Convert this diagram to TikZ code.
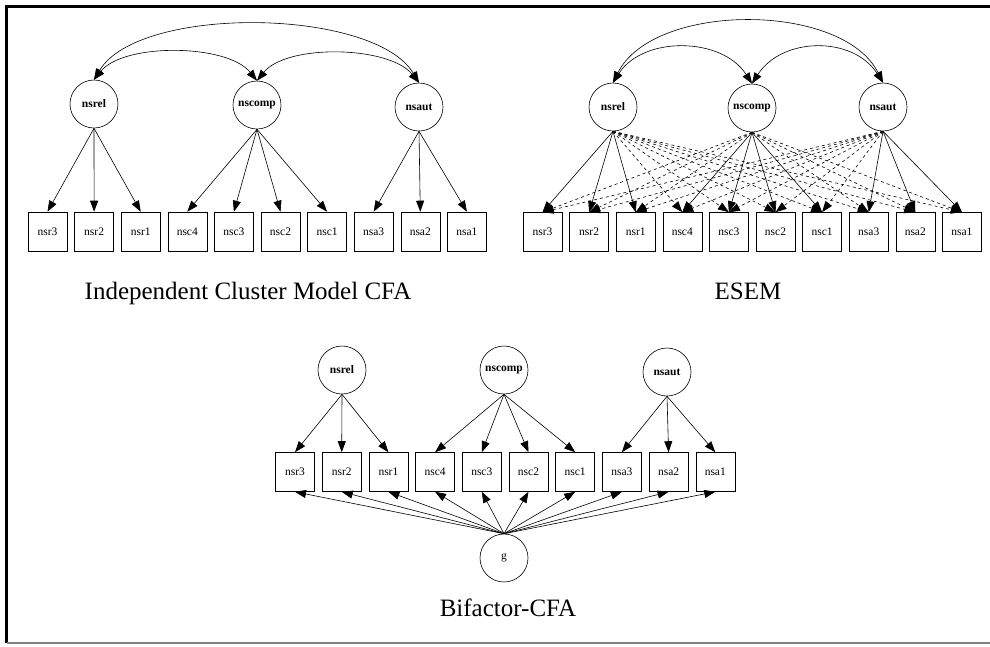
\documentclass[tikz,border=0pt]{standalone}
\usepackage{fontspec}
\setmainfont{Liberation Serif}
\usetikzlibrary{arrows.meta}

\tikzset{
  latent/.style={draw, circle, minimum size=48pt, inner sep=0pt, font=\fontsize{11.5}{13}\selectfont\bfseries},
  item/.style={draw, rectangle, minimum size=39pt, inner sep=0pt, font=\fontsize{11.5}{13}\selectfont},
  load/.style={-{Triangle[length=11pt,width=8pt]}},
  corr/.style={{Triangle[length=11pt,width=8pt]}-{Triangle[length=11pt,width=8pt]}},
  heading/.style={font=\fontsize{25}{30}\selectfont, anchor=base},
}

\begin{document}
\begin{tikzpicture}[x=1pt, y=-1pt, line width=0.6pt]
  \useasboundingbox (0,0) rectangle (990,646);
  % frame
  \draw[line width=3pt] (990,6.5) -- (6.5,6.5) -- (6.5,643);
  \draw[gray, line width=1.2pt] (6.5,643) -- (990,643);

  % Independent cluster model
  \node[latent] (icm-nsrel) at (94,104) {nsrel};
  \node[latent] (icm-nscomp) at (257,105) {nscomp};
  \node[latent] (icm-nsaut) at (419,107) {nsaut};
  \foreach \v [count=\i from 0] in {nsr3,nsr2,nsr1,nsc4,nsc3,nsc2,nsc1,nsa3,nsa2,nsa1}
    \node[item] (icm-\v) at ({47.5+46.6*\i},231.5) {\v};
  \foreach \v in {nsr3,nsr2,nsr1}
    \draw[load] (icm-nsrel.south) -- (icm-\v.north);
  \foreach \v in {nsc4,nsc3,nsc2,nsc1}
    \draw[load] (icm-nscomp.south) -- (icm-\v.north);
  \foreach \v in {nsa3,nsa2,nsa1}
    \draw[load] (icm-nsaut.south) -- (icm-\v.north);
  \draw[corr] (icm-nsrel.north) .. controls +(30,-37) and +(-30,-37) .. (icm-nscomp.north);
  \draw[corr] (icm-nscomp.north) .. controls +(30,-37) and +(-30,-37) .. (icm-nsaut.north);
  \draw[corr] (icm-nsrel.north) .. controls +(45,-75) and +(-45,-75) .. (icm-nsaut.north);
  \node[heading] (icm-title) at (248,299) {Independent Cluster Model CFA};

  % ESEM
  \node[latent] (esem-nsrel) at (613,107) {nsrel};
  \node[latent] (esem-nscomp) at (752,108) {nscomp};
  \node[latent] (esem-nsaut) at (883,107) {nsaut};
  \foreach \v [count=\i from 0] in {nsr3,nsr2,nsr1,nsc4,nsc3,nsc2,nsc1,nsa3,nsa2,nsa1}
    \node[item] (esem-\v) at ({542.5+46.6*\i},232) {\v};
  \foreach \v in {nsc4,nsc3,nsc2,nsc1,nsa3,nsa2,nsa1}
    \draw[load, dashed] (esem-nsrel.south) -- (esem-\v.north);
  \foreach \v in {nsr3,nsr2,nsr1,nsa3,nsa2,nsa1}
    \draw[load, dashed] (esem-nscomp.south) -- (esem-\v.north);
  \foreach \v in {nsr3,nsr2,nsr1,nsc4,nsc3,nsc2,nsc1}
    \draw[load, dashed] (esem-nsaut.south) -- (esem-\v.north);
  \foreach \v in {nsr3,nsr2,nsr1}
    \draw[load] (esem-nsrel.south) -- (esem-\v.north);
  \foreach \v in {nsc4,nsc3,nsc2,nsc1}
    \draw[load] (esem-nscomp.south) -- (esem-\v.north);
  \foreach \v in {nsa3,nsa2,nsa1}
    \draw[load] (esem-nsaut.south) -- (esem-\v.north);
  \draw[corr] (esem-nsrel.north) .. controls +(30,-47) and +(-30,-47) .. (esem-nscomp.north);
  \draw[corr] (esem-nscomp.north) .. controls +(30,-47) and +(-30,-47) .. (esem-nsaut.north);
  \draw[corr] (esem-nsrel.north) .. controls +(40,-81) and +(-40,-81) .. (esem-nsaut.north);
  \node[heading] (esem-title) at (748,299) {ESEM};

  % Bifactor CFA
  \node[latent] (bif-nsrel) at (342,370) {nsrel};
  \node[latent] (bif-nscomp) at (504,370) {nscomp};
  \node[latent] (bif-nsaut) at (667,372) {nsaut};
  \node[latent, font=\fontsize{11.5}{13}\selectfont] (bif-g) at (504,558) {g};
  \foreach \v [count=\i from 0] in {nsr3,nsr2,nsr1,nsc4,nsc3,nsc2,nsc1,nsa3,nsa2,nsa1} {
    \node[item] (bif-\v) at ({295+46.7*\i},472) {\v};
    \draw[load] (bif-g.north) -- (bif-\v.south);
  }
  \foreach \v in {nsr3,nsr2,nsr1}
    \draw[load] (bif-nsrel.south) -- (bif-\v.north);
  \foreach \v in {nsc4,nsc3,nsc2,nsc1}
    \draw[load] (bif-nscomp.south) -- (bif-\v.north);
  \foreach \v in {nsa3,nsa2,nsa1}
    \draw[load] (bif-nsaut.south) -- (bif-\v.north);
  \node[heading] (bif-title) at (508,616) {Bifactor-CFA};
\end{tikzpicture}
\end{document}
